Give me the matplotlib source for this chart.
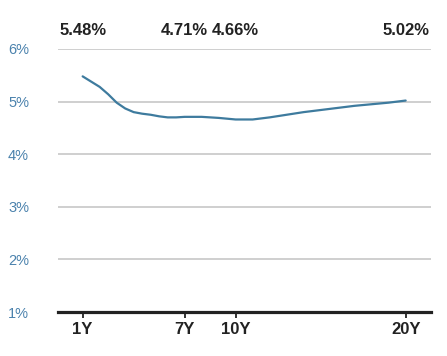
import matplotlib
matplotlib.use('Agg')
import matplotlib.pyplot as plt
import matplotlib.transforms as mtransforms

# yield curve (maturity in years, yield in %)
maturities = [1, 1.5, 2, 2.5, 3, 3.5, 4, 4.5, 5, 5.5, 6, 6.5, 7, 8, 9, 10,
              11, 12, 13, 14, 15, 16, 17, 18, 19, 20]
yields = [5.48, 5.38, 5.28, 5.14, 4.98, 4.87, 4.80, 4.77, 4.75, 4.72, 4.70, 4.70,
          4.71, 4.71, 4.69, 4.66, 4.66, 4.70, 4.75, 4.80, 4.84, 4.88, 4.92,
          4.95, 4.98, 5.02]

tick_years = [1, 7, 10, 20]
tick_labels = ['1Y', '7Y', '10Y', '20Y']
label_years = [1, 7, 10, 20]
label_values = [5.48, 4.71, 4.66, 5.02]
y_ticks = [1, 2, 3, 4, 5, 6]

plt.rcParams['font.family'] = ['Liberation Sans', 'DejaVu Sans']

fig = plt.figure(figsize=(4.47, 3.56), dpi=100)
ax = fig.add_axes([58 / 447, 44 / 356, 373 / 447, 263 / 356])

for y in y_ticks[1:]:
    ax.axhline(y, color='#cccccc', lw=1.3, zorder=1)

ax.plot(maturities, yields, color='#3e7b9e', lw=1.6, zorder=3,
        solid_capstyle='round', solid_joinstyle='round')

ax.set_xlim(-0.45, 21.49)
ax.set_ylim(1, 6)

ax.set_xticks(tick_years)
ax.set_xticklabels(tick_labels, fontsize=12, fontweight='bold', color='#222222')
ax.tick_params(axis='x', length=4, width=1.3, color='#222222', pad=3)

ax.set_yticks(y_ticks)
ax.set_yticklabels(['%d%%' % v for v in y_ticks], fontsize=10.5, color='#4b82ad')
ax.tick_params(axis='y', length=0, pad=36)
for lbl in ax.get_yticklabels():
    lbl.set_horizontalalignment('left')

for side in ['top', 'left', 'right']:
    ax.spines[side].set_visible(False)
ax.spines['bottom'].set_linewidth(2.3)
ax.spines['bottom'].set_color('#222222')
ax.spines['bottom'].set_zorder(4)

trans = mtransforms.blended_transform_factory(ax.transData, ax.transAxes)
for x, v in zip(label_years, label_values):
    ax.text(x, 1.072, '%.2f%%' % v, transform=trans, ha='center', va='center',
            fontsize=12, fontweight='bold', color='#222222', clip_on=False)

fig.savefig('out.png', dpi=100)
